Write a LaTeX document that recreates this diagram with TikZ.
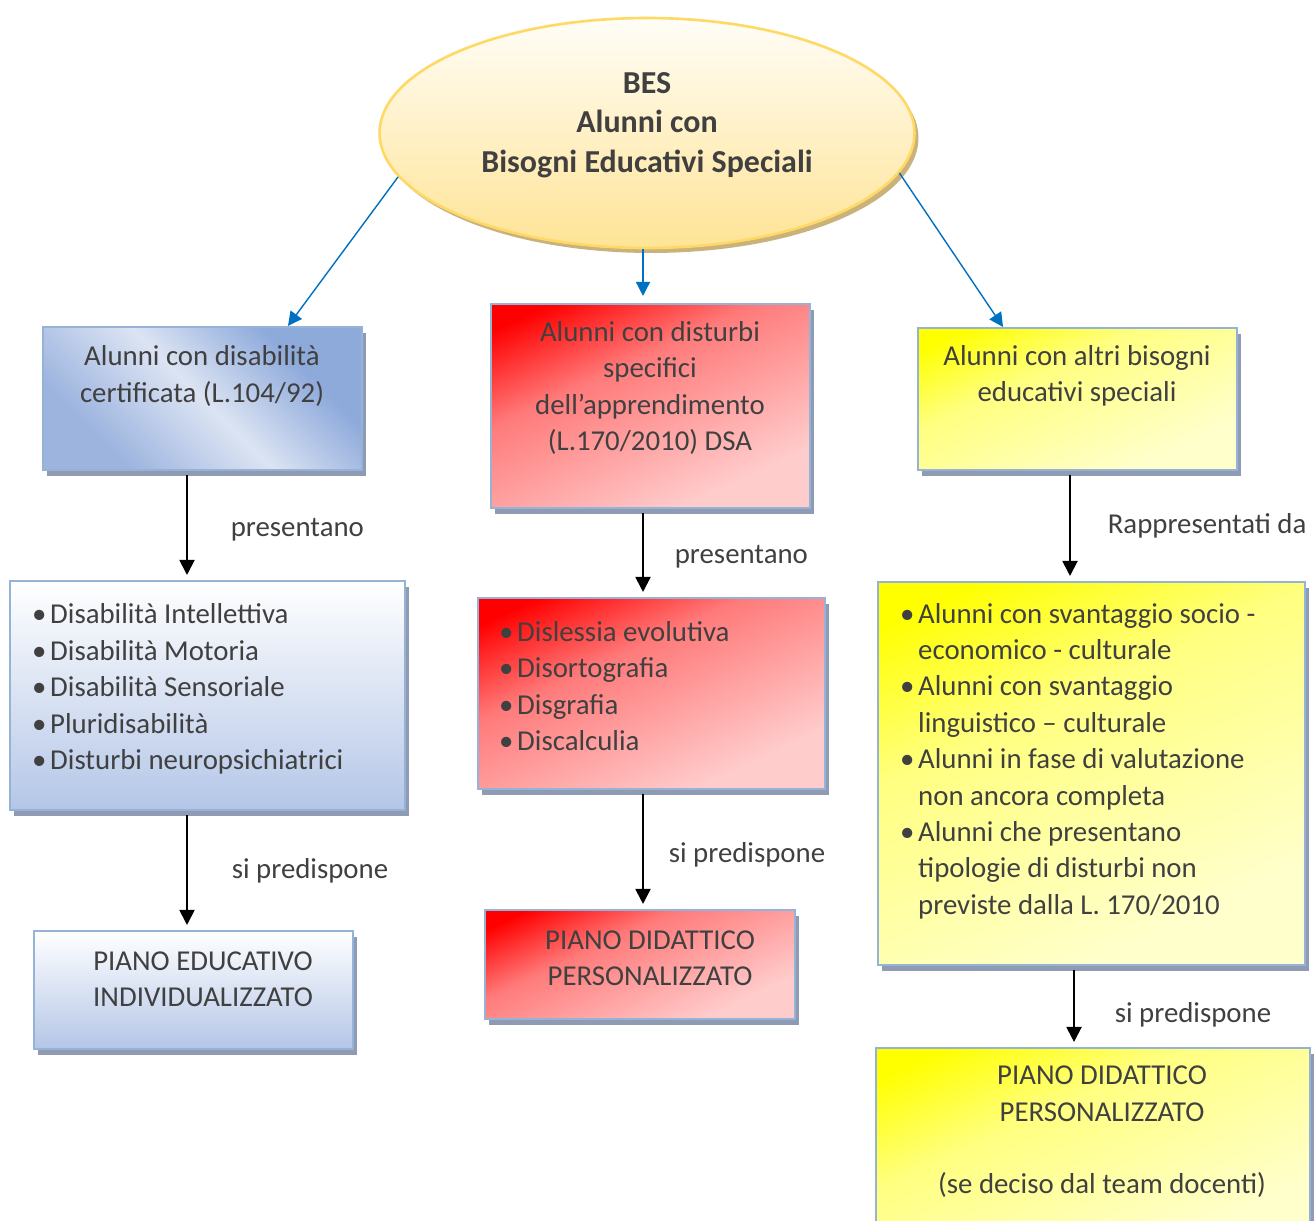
\documentclass[tikz,border=0pt]{standalone}
\usepackage{fontspec}
\setmainfont{Carlito}
\usetikzlibrary{positioning,shapes,arrows.meta,shadows}

\definecolor{txtgray}{HTML}{404040}
\definecolor{bordblue}{HTML}{95B3D7}
\definecolor{shadowc}{HTML}{8F9BB3}
\definecolor{bdark}{HTML}{8EAADB}
\definecolor{bmid}{HTML}{9DB4DF}
\definecolor{blight}{HTML}{DCE4F3}
\definecolor{blist}{HTML}{B4C6E7}
\definecolor{rmid}{HTML}{FF7A7A}
\definecolor{rpink}{HTML}{FFCCCC}
\definecolor{ymid}{HTML}{FFFF80}
\definecolor{ypale}{HTML}{FFFFCC}
\definecolor{ecream}{HTML}{FFFDF7}
\definecolor{eyellow}{HTML}{FFE496}
\definecolor{egold}{HTML}{FFD966}
\definecolor{etan}{HTML}{C9B27C}
\definecolor{arrblue}{HTML}{0070C0}

\pgfdeclarehorizontalshading{disshade}{100bp}{color(0bp)=(bdark); color(30bp)=(bdark); color(50bp)=(blight); color(72bp)=(bmid); color(100bp)=(bmid)}
\pgfdeclarehorizontalshading{redshade}{100bp}{color(0bp)=(red); color(22bp)=(red); color(40bp)=(rmid); color(72bp)=(rpink); color(100bp)=(rpink)}
\pgfdeclarehorizontalshading{yelshade}{100bp}{color(0bp)=(yellow); color(22bp)=(yellow); color(40bp)=(ymid); color(72bp)=(ypale); color(100bp)=(ypale)}

\newcommand{\blt}{\makebox[0.36cm][l]{\textbullet}}

\begin{document}
\begin{tikzpicture}[
  x=0.02cm, y=-0.02cm,
  every node/.style={text=txtgray, font=\fontsize{16.4}{20.7}\selectfont},
  box/.style={draw=bordblue, line width=1.2pt, inner sep=0pt,
    drop shadow={fill=shadowc, opacity=1, shadow xshift=0.08cm, shadow yshift=-0.12cm}},
  bluebox/.style={box, top color=white, bottom color=blist},
  redbox/.style={box, shading=redshade, shading angle=295},
  yelbox/.style={box, shading=yelshade, shading angle=295},
  txt/.style={align=center},
  lst/.style={align=left, anchor=west},
  lbl/.style={anchor=west},
  arr/.style={-{Triangle[length=0.3cm,width=0.3cm]}, line width=1.1pt,
    shorten <=0.08cm, shorten >=0.1cm},
  barr/.style={-{Triangle[length=0.28cm,width=0.28cm]}, draw=arrblue, line width=0.8pt}
]
\useasboundingbox (0,0) rectangle (1314,1220);

% centro
\node[ellipse, minimum width=10.7cm, minimum height=4.6cm, inner sep=0pt,
  top color=ecream, bottom color=eyellow, draw=egold, line width=1.5pt,
  drop shadow={fill=etan, opacity=1, shadow xshift=0.08cm, shadow yshift=-0.1cm}] (bes) at (647,133) {};
\node[txt, font=\fontsize{18.2}{22.4}\selectfont\bfseries] (bes-t) at (647,125) {BES\\Alunni con\\Bisogni Educativi Speciali};

% colonna disabilita
\node[box, shading=disshade, shading angle=225, minimum width=6.38cm, minimum height=2.86cm] (dis) at (202.5,398.5) {};
\node[txt] (dis-t) at (202,376) {Alunni con disabilità\\certificata (L.104/92)};
\node[bluebox, minimum width=7.9cm, minimum height=4.58cm] (dislist) at (207.5,695.5) {};
\node[lst] (dislist-t) at (26,689) {\blt Disabilità Intellettiva\\\blt Disabilità Motoria\\\blt Disabilità Sensoriale\\\blt Pluridisabilità\\\blt Disturbi neuropsichiatrici};
\node[bluebox, minimum width=6.38cm, minimum height=2.36cm] (pei) at (193.5,990) {};
\node[txt] (pei-t) at (203,979) {PIANO EDUCATIVO\\INDIVIDUALIZZATO};

% colonna DSA
\node[redbox, minimum width=6.38cm, minimum height=4.08cm] (dsa) at (650.5,406) {};
\node[txt] (dsa-t) at (650,388) {Alunni con disturbi\\specifici\\dell’apprendimento\\(L.170/2010) DSA};
\node[redbox, minimum width=6.94cm, minimum height=3.82cm] (dsalist) at (651.5,693.5) {};
\node[lst] (dsalist-t) at (493,686) {\blt Dislessia evolutiva\\\blt Disortografia\\\blt Disgrafia\\\blt Discalculia};
\node[redbox, minimum width=6.2cm, minimum height=2.18cm] (pdp) at (640,964.5) {};
\node[txt] (pdp-t) at (650,958) {PIANO DIDATTICO\\PERSONALIZZATO};

% colonna altri BES
\node[yelbox, minimum width=6.38cm, minimum height=2.84cm] (altri) at (1077.5,399) {};
\node[txt] (altri-t) at (1077,376) {Alunni con altri bisogni\\educativi speciali};
\node[yelbox, minimum width=8.54cm, minimum height=7.66cm] (altrilist) at (1091.5,773.5) {};
\node[lst] (altrilist-t) at (894,761) {\blt Alunni con svantaggio socio -\\\hspace*{0.36cm}economico - culturale\\\blt Alunni con svantaggio\\\hspace*{0.36cm}linguistico – culturale\\\blt Alunni in fase di valutazione\\\hspace*{0.36cm}non ancora completa\\\blt Alunni che presentano\\\hspace*{0.36cm}tipologie di disturbi non\\\hspace*{0.36cm}previste dalla L. 170/2010};
\node[yelbox, minimum width=8.68cm, minimum height=4.04cm] (pdp2) at (1093,1149) {};
\node[txt] (pdp2-t) at (1102,1132) {PIANO DIDATTICO\\PERSONALIZZATO\\[20.7pt](se deciso dal team docenti)};

% frecce
\path (bes.190) edge[barr] ([xshift=1.71cm]dis.north)
  (bes.south -| 643,0) edge[barr, shorten >=0.14cm] (dsa.north -| 643,0)
  (bes.351) edge[barr] ([xshift=-1.49cm]altri.north);
\path (dis.south -| 187,0) edge[arr] node[lbl, right=0.74cm, yshift=-0.08cm] (l1) {presentano} (dislist.north -| 187,0)
  (dislist.south -| 187,0) edge[arr] node[lbl, right=0.76cm] (l2) {si predispone} (pei.north -| 187,0)
  (dsa.south -| 643,0) edge[arr] node[lbl, right=0.5cm, yshift=-0.08cm] (l3) {presentano} (dsalist.north -| 643,0)
  (dsalist.south -| 643,0) edge[arr] node[lbl, right=0.38cm, yshift=-0.1cm] (l4) {si predispone} (pdp.north -| 643,0)
  (altri.south -| 1070,0) edge[arr] node[lbl, right=0.62cm] (l5) {Rappresentati da} (altrilist.north -| 1070,0)
  (altrilist.south -| 1074,0) edge[arr] node[lbl, right=0.68cm, yshift=-0.16cm] (l6) {si predispone} (pdp2.north -| 1074,0);
\end{tikzpicture}
\end{document}
